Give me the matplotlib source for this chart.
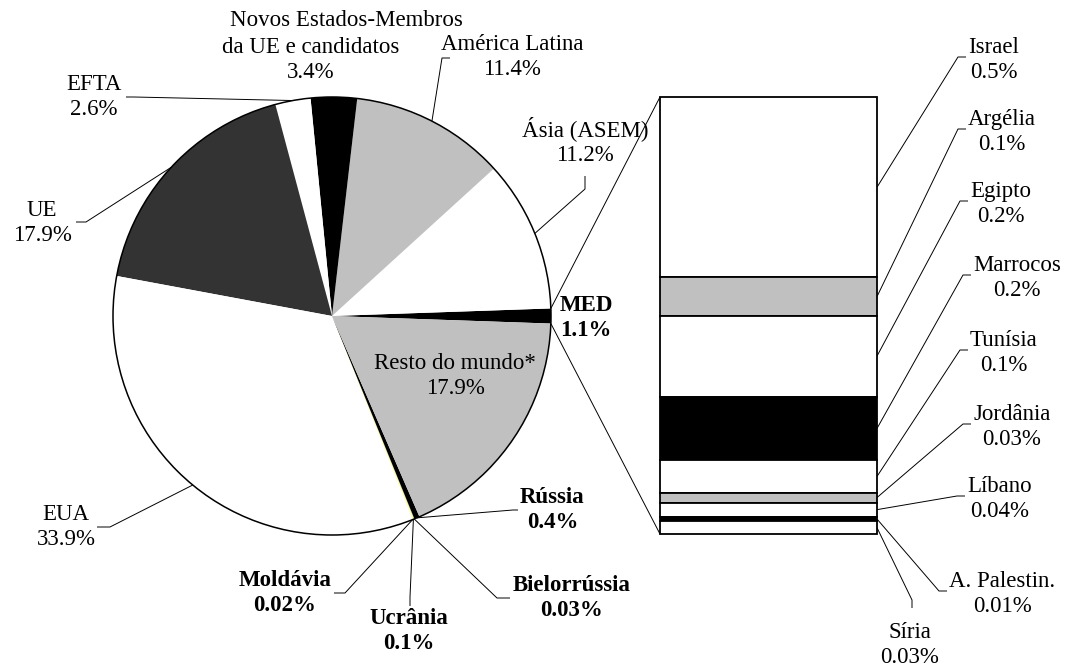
import numpy as np
import matplotlib
matplotlib.use("Agg")
import matplotlib.pyplot as plt

plt.rcParams['font.family'] = ['Liberation Serif', 'DejaVu Serif']
plt.rcParams['font.size'] = 16.5

W, H = 1066, 670

# pie: shares of trade (%), counterclockwise starting at MED
pie_names = ["MED", "Ásia (ASEM)", "América Latina", "Novos Estados-Membros",
             "EFTA", "UE", "EUA", "Moldávia", "Ucrânia", "Bielorrússia",
             "Rússia", "Resto do mundo*"]
pie_values = [1.1, 11.2, 11.4, 3.4, 2.6, 17.9, 33.9, 0.02, 0.1, 0.03, 0.4, 17.9]
pie_colors = ["black", "white", "#c0c0c0", "black", "white", "#333333",
              "white", "white", "#ffffa0", "#c0c0c0", "black", "#c0c0c0"]

# MED breakdown (bar, top to bottom)
med_names = ["Israel", "Argélia", "Egipto", "Marrocos", "Tunísia", "Jordânia",
             "Líbano", "A. Palestin.", "Síria"]
med_labels = ["0.5%", "0.1%", "0.2%", "0.2%", "0.1%", "0.03%", "0.04%", "0.01%", "0.03%"]
med_values = [0.50, 0.106, 0.224, 0.177, 0.089, 0.028, 0.039, 0.013, 0.035]
med_colors = ["white", "#c0c0c0", "white", "black", "white", "#c0c0c0",
              "white", "black", "white"]


def P(x, y):
    # pixel position (y from top) -> data coords of the main axes
    return (x, H - y)


fig = plt.figure(figsize=(W / 100, H / 100), dpi=100)
ax = fig.add_axes([0, 0, 1, 1])

cx, cy = P(332, 316)
R = 219
start = -pie_values[0] / sum(pie_values) * 180
wedges, _ = ax.pie(pie_values, colors=pie_colors, startangle=start,
                   counterclock=True, center=(cx, cy), radius=R,
                   wedgeprops=dict(linewidth=0))
ax.add_patch(plt.Circle((cx, cy), R, fill=False, ec="black", lw=1.1))
ax.set_xlim(0, W)
ax.set_ylim(0, H)
ax.set_aspect("equal")
ax.axis("off")


def edge(i, frac=0.5):
    w = wedges[i]
    a = np.radians(w.theta1 + (w.theta2 - w.theta1) * frac)
    return (cx + R * np.cos(a), cy + R * np.sin(a))


def leader(points):
    xs, ys = zip(*points)
    ax.plot(xs, ys, color="black", lw=0.7, solid_capstyle="butt")


# pie labels
ax.text(*P(346, 21), "Novos Estados-Membros", ha="center", va="center")
ax.text(*P(311, 60), "da UE e candidatos\n3.4%", ha="center", va="center")

ax.text(*P(512, 57), "América Latina\n11.4%", ha="center", va="center")
leader([edge(2), P(442, 58), P(450, 58)])

ax.text(*P(585, 141), "Ásia (ASEM)\n11.2%", ha="center", va="center")
leader([edge(1), P(585, 189), P(585, 176)])

ax.text(*P(94, 97), "EFTA\n2.6%", ha="center", va="center")
leader([edge(4), P(134, 97), P(126, 97)])

ax.text(*P(42, 223), "UE\n17.9%", ha="center", va="center")
leader([edge(5), P(86, 222), P(76, 222)])

ax.text(*P(66, 527), "EUA\n33.9%", ha="center", va="center")
leader([edge(6), P(110, 527), P(97, 527)])

ax.text(*P(560, 318), "MED\n1.1%", ha="left", va="center", fontweight="bold")
ax.text(*P(455, 376), "Resto do mundo*\n17.9%", ha="center", va="center")

ax.text(*P(520, 510), "Rússia\n0.4%", ha="left", va="center",
        multialignment="center", fontweight="bold")
leader([edge(10), P(513, 510), P(518, 510)])

ax.text(*P(513, 598), "Bielorrússia\n0.03%", ha="left", va="center",
        multialignment="center", fontweight="bold")
leader([edge(9), P(497, 598), P(510, 598)])

ax.text(*P(409, 631), "Ucrânia\n0.1%", ha="center", va="center", fontweight="bold")
leader([edge(8), P(410, 597), P(410, 606)])

ax.text(*P(285, 593), "Moldávia\n0.02%", ha="center", va="center", fontweight="bold")
leader([edge(7), P(345, 593), P(334, 593)])

# MED breakdown bar
bx = fig.add_axes([660 / W, (H - 534) / H, 217 / W, 437 / H])
bottoms = np.concatenate([[0], np.cumsum(med_values)[:-1]])
bars = bx.bar(0, med_values, bottom=bottoms, width=1, color=med_colors,
              edgecolor="black", linewidth=1.3, clip_on=False)
bx.set_xlim(-0.5, 0.5)
bx.set_ylim(sum(med_values), 0)
bx.axis("off")


def to_main(trans, pt):
    return ax.transData.inverted().transform(trans.transform(pt))


# connectors pie -> bar
leader([edge(0, 1.0), to_main(bx.transAxes, (0, 1))])
leader([edge(0, 0.0), to_main(bx.transAxes, (0, 0))])

# right-hand labels: left x, centre y (pixels)
lab_x = [968, 968, 970, 973, 970, 973, 967, 949, 910]
lab_y = [60, 132, 204, 278, 353, 427, 499, 594, 645]
for i, name in enumerate(med_names):
    mid = to_main(bx.transData, (0.5, bottoms[i] + med_values[i] / 2))
    txt = name + "\n" + med_labels[i]
    if name == "Síria":
        ax.text(*P(lab_x[i], lab_y[i]), txt, ha="center", va="center")
        leader([mid, P(912, 600), P(912, 608)])
    else:
        ax.text(*P(lab_x[i], lab_y[i]), txt, ha="left", va="center",
                multialignment="center")
        leader([mid, P(lab_x[i] - 10, lab_y[i] - 3), P(lab_x[i] - 2, lab_y[i] - 3)])

fig.savefig("out.png", dpi=100)
